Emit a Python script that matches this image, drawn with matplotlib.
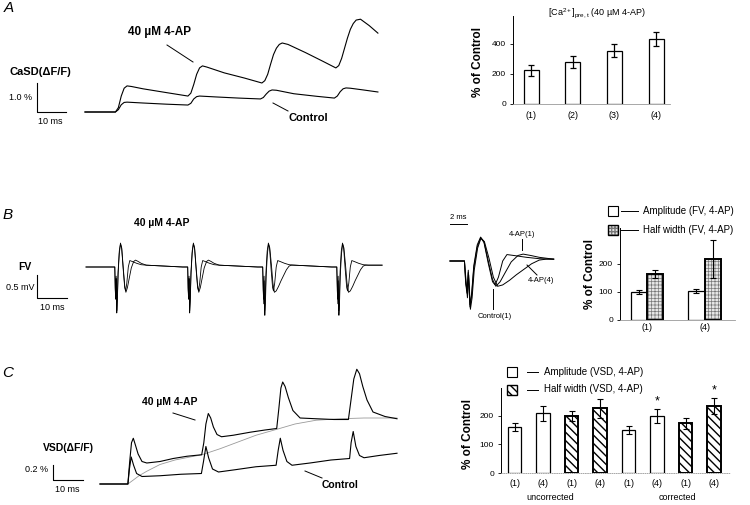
import numpy as np
import matplotlib
matplotlib.use('Agg')
import matplotlib.pyplot as plt
from matplotlib.lines import Line2D
from matplotlib.patches import Rectangle

plt.rcParams['font.family'] = ['Liberation Sans', 'DejaVu Sans']
plt.rcParams['mathtext.fontset'] = 'custom'
plt.rcParams['mathtext.rm'] = 'Liberation Sans'
plt.rcParams['mathtext.it'] = 'Liberation Sans:italic'
plt.rcParams['mathtext.bf'] = 'Liberation Sans:bold'

W, H = 750, 505

# ---- A: CaSD traces (ms, % dF/F)
ca_ctrl_t = [0, 10.5, 11.5, 12.5, 13.5, 14.5, 20, 28, 35.5, 36.5, 37.5, 38.5, 39.5, 45, 53, 60.5,
             61.5, 62.5, 63.5, 64.5, 66, 72, 80, 86, 87, 88, 89, 90, 91.5, 96, 101]
ca_ctrl_v = [0, 0, 0.08, 0.25, 0.33, 0.34, 0.31, 0.27, 0.24, 0.3, 0.45, 0.53, 0.55, 0.52, 0.48, 0.45,
             0.5, 0.62, 0.72, 0.76, 0.75, 0.63, 0.54, 0.48, 0.55, 0.7, 0.8, 0.83, 0.82, 0.76, 0.69]
ca_4ap_t = [0, 10.5, 11.5, 12.5, 13.5, 14.5, 16, 20, 28, 35.5, 36.5, 37.5, 38.5, 39.5, 40.5, 42, 48, 55,
            61, 62, 63, 64, 65, 66, 67, 68, 70, 76, 82, 86.5, 87.5, 88.5, 89.5, 90.5, 91.5, 92.5, 93.5,
            95, 98, 101]
ca_4ap_v = [0, 0, 0.15, 0.55, 0.82, 0.9, 0.88, 0.8, 0.67, 0.55, 0.65, 0.95, 1.3, 1.52, 1.59, 1.55, 1.35,
            1.17, 1.0, 1.08, 1.3, 1.65, 1.98, 2.2, 2.33, 2.38, 2.33, 2.05, 1.75, 1.52, 1.6, 1.85, 2.2,
            2.55, 2.85, 3.05, 3.17, 3.2, 2.98, 2.72]

# ---- A: [Ca2+] bars (% of control)
ca_labels = ['(1)', '(2)', '(3)', '(4)']
ca_mean = [225, 277, 355, 433]
ca_err = [38, 40, 43, 47]

# ---- B: FV waveforms, one pulse each (ms from sweep start, mV)
fv_ctrl_t = [0, 1.7, 1.85, 2.0, 2.15, 2.35, 2.55, 2.8, 3.2, 3.6, 4.0, 4.5, 5.0, 5.3, 5.7, 6.2, 6.7,
             7.5, 9, 10.5, 12.2]
fv_ctrl_v = [0, 0, -0.5, -0.7, -0.2, -0.95, -0.7, -0.1, 0.35, 0.52, 0.4, -0.05, -0.45, -0.52, -0.35,
             0.0, 0.14, 0.12, 0.08, 0.05, 0.04]
fv_ap1_t = [0, 1.7, 1.85, 2.0, 2.15, 2.35, 2.55, 2.8, 3.2, 3.6, 4.0, 4.5, 5.0, 5.4, 5.9, 6.5, 7.2,
            8.0, 8.6, 9.5, 10.5, 12.2]
fv_ap1_v = [0, 0, -0.45, -0.65, -0.25, -1.0, -0.75, -0.15, 0.3, 0.5, 0.42, 0.0, -0.4, -0.55, -0.45,
            -0.25, -0.02, 0.12, 0.15, 0.12, 0.08, 0.04]
fv_ap4_t = [0, 1.7, 1.85, 2.05, 2.2, 2.4, 2.6, 2.85, 3.25, 3.65, 4.05, 4.6, 5.1, 5.6, 6.2, 7.0, 7.8,
            8.7, 9.6, 10.5, 11.3, 12.2]
fv_ap4_v = [0, 0, -0.35, -0.8, -0.3, -1.05, -0.8, -0.2, 0.28, 0.5, 0.42, 0.05, -0.35, -0.55, -0.52,
            -0.42, -0.3, -0.18, -0.06, 0.02, 0.04, 0.04]
fv_stim = [9.7, 34.0, 59.0, 83.7]
fv_lead = 1.8
fv_end = 98.7

# ---- B: FV bars
fv_groups = ['(1)', '(4)']
fv_amp = [100, 104]
fv_amp_err = [6, 6]
fv_hw = [164, 218]
fv_hw_err = [14, 68]

# ---- C: VSD traces (ms, % dF/F)
vsd_ctrl_t = [0, 9.3, 9.8, 10.4, 11.2, 12.2, 14, 20, 27, 33.8, 34.5, 35.3, 36.2, 37.5, 39.5, 45, 52,
              58.7, 59.4, 60.1, 61.0, 62.3, 64, 70, 77, 83.2, 83.7, 84.4, 85.3, 86.5, 88, 93, 99]
vsd_ctrl_v = [0, 0, 0.2, 0.36, 0.25, 0.14, 0.1, 0.11, 0.13, 0.14, 0.3, 0.5, 0.35, 0.2, 0.16, 0.19,
              0.23, 0.25, 0.45, 0.61, 0.45, 0.3, 0.25, 0.28, 0.32, 0.34, 0.55, 0.7, 0.5, 0.38, 0.35,
              0.38, 0.41]
vsd_4ap_t = [0, 9.3, 9.9, 10.5, 11.1, 11.8, 12.7, 14, 15.6, 20, 24.4, 29, 33.9, 34.6, 35.3, 36.1, 36.9,
             37.8, 39, 40.5, 44.4, 50, 55, 58.9, 59.6, 60.3, 60.9, 61.7, 62.8, 64.3, 66.7, 72, 78,
             82.8, 83.6, 84.6, 85.6, 86.5, 87.6, 89, 91, 95, 99]
vsd_4ap_v = [0, 0, 0.3, 0.55, 0.61, 0.52, 0.4, 0.3, 0.28, 0.3, 0.34, 0.37, 0.39, 0.55, 0.8, 0.94,
             0.88, 0.76, 0.66, 0.63, 0.65, 0.69, 0.72, 0.74, 1.0, 1.28, 1.36, 1.3, 1.15, 0.98, 0.88,
             0.87, 0.86, 0.86, 1.1, 1.4, 1.53, 1.47, 1.3, 1.12, 0.96, 0.9, 0.87]
vsd_fit_t = [9.3, 11, 13, 15.6, 20, 25, 30, 34, 40, 46, 52, 59, 65, 72, 80, 88, 99]
vsd_fit_v = [0, 0.05, 0.11, 0.17, 0.26, 0.32, 0.36, 0.39, 0.47, 0.56, 0.65, 0.73, 0.8, 0.85, 0.87,
             0.88, 0.88]

# ---- C: VSD bars
vsd_labels = ['(1)', '(4)', '(1)', '(4)', '(1)', '(4)', '(1)', '(4)']
vsd_mean = [162, 209, 200, 227, 151, 200, 174, 235]
vsd_err = [14, 25, 17, 33, 15, 26, 18, 29]
vsd_hatched = [False, False, True, True, False, False, True, True]
vsd_star = [False, False, False, False, False, True, False, True]

fig = plt.figure(figsize=(W / 100, H / 100), dpi=100)


def px_axes(x0, y0, x1, y1):
    return fig.add_axes([x0 / W, 1 - y1 / H, (x1 - x0) / W, (y1 - y0) / H])


def trace_axes(rect, x0, px_ms, y0, px_unit):
    ax = px_axes(*rect)
    ax.set_xlim((rect[0] - x0) / px_ms, (rect[2] - x0) / px_ms)
    ax.set_ylim((y0 - rect[3]) / px_unit, (y0 - rect[1]) / px_unit)
    ax.axis('off')
    return ax


def ptext(x, y, s, **kw):
    kw.setdefault('ha', 'center')
    kw.setdefault('va', 'center')
    fig.text(x / W, 1 - y / H, s, **kw)


def pline(xs, ys, **kw):
    fig.add_artist(Line2D([x / W for x in xs], [1 - y / H for y in ys],
                          transform=fig.transFigure, color='k', lw=0.7, **kw))


def prect(x0, y0, x1, y1, **kw):
    r = Rectangle((x0 / W, 1 - y1 / H), (x1 - x0) / W, (y1 - y0) / H,
                  transform=fig.transFigure, **kw)
    fig.add_artist(r)
    return r


def scale_bar(ax, t0, v0, dt, dv):
    ax.plot([t0, t0, t0 + dt], [v0 + dv, v0, v0], color='k', lw=0.8, clip_on=False)


def style_bar_axes(ax, xpad, bottom_ls='-'):
    for s in ['top', 'right']:
        ax.spines[s].set_visible(False)
    ax.spines['left'].set_linewidth(0.7)
    ax.spines['bottom'].set_color('#999999')
    ax.spines['bottom'].set_linewidth(0.6)
    ax.spines['bottom'].set_linestyle(bottom_ls)
    ax.tick_params(axis='y', length=2, width=0.6, pad=3, labelsize=6)
    ax.tick_params(axis='x', length=0, pad=xpad, labelsize=6.5)


def fv_sweep(templates):
    t, v = [0.0], [0.0]
    for stim, (tt, vv) in zip(fv_stim, templates):
        t += [x + stim - fv_lead for x in tt]
        v += list(vv)
    t.append(fv_end)
    v.append(v[-1])
    return t, v


lw_tr = 0.8

# ================= A =================
axA = trace_axes((0, 0, 400, 130), 85, 2.9, 112, 29)
axA.plot(ca_ctrl_t, ca_ctrl_v, color='k', lw=lw_tr)
axA.plot(ca_4ap_t, ca_4ap_v, color='k', lw=lw_tr)
scale_bar(axA, -16.7, 0.0, 10, 1.0)

ptext(9, 8, 'A', style='italic', fontsize=11)
ptext(160, 32, '40 µM 4-AP', fontweight='bold', fontsize=8.5)
pline([167, 193], [45, 62])
ptext(40, 72, 'CaSD(ΔF/F)', fontweight='bold', fontsize=8)
ptext(21, 98, '1.0 %', fontsize=6.5)
ptext(50, 122, '10 ms', fontsize=6.5)
ptext(308, 118, 'Control', fontweight='bold', fontsize=8)
pline([273, 288], [103, 111])

axAb = px_axes(513, 15.5, 670, 104)
xa = np.arange(1, len(ca_mean) + 1)
axAb.bar(xa, ca_mean, width=0.36, color='white', edgecolor='k', linewidth=0.9)
axAb.errorbar(xa, ca_mean, yerr=ca_err, fmt='none', ecolor='k', elinewidth=0.9, capsize=2.5,
              capthick=0.9)
axAb.set_xlim(0.568, 4.33)
axAb.set_ylim(0, 590)
axAb.set_yticks([0, 200, 400])
axAb.set_xticks(xa, ca_labels)
style_bar_axes(axAb, 5)
ptext(597, 13, r'[Ca$^{2+}$]$_{\mathrm{pre,t}}$ (40 µM 4-AP)', fontsize=6.5)
ptext(478, 62, '% of Control', rotation=90, fontweight='bold', fontsize=8.5)

# ================= B =================
axB = trace_axes((0, 190, 440, 330), 86, 3, 267, 46)
t, v = fv_sweep([(fv_ctrl_t, fv_ctrl_v)] * 4)
axB.plot(t, v, color='k', lw=0.6)
t, v = fv_sweep([(fv_ap1_t, fv_ap1_v), (fv_ap1_t, fv_ap1_v),
                 (fv_ap4_t, fv_ap4_v), (fv_ap4_t, fv_ap4_v)])
axB.plot(t, v, color='k', lw=0.6)
scale_bar(axB, -16.3, -0.674, 10, 0.5)

ptext(8, 215, 'B', style='italic', fontsize=11)
ptext(162, 223, '40 µM 4-AP', fontweight='bold', fontsize=7.5)
ptext(25, 267, 'FV', fontweight='bold', fontsize=7.5)
ptext(20, 288, '0.5 mV', fontsize=6.5)
ptext(52, 307, '10 ms', fontsize=6.5)

axI = trace_axes((440, 205, 565, 330), 450, 8.5, 261, 46)
axI.plot(fv_ctrl_t, fv_ctrl_v, color='k', lw=0.7)
axI.plot(fv_ap1_t, fv_ap1_v, color='k', lw=0.7)
axI.plot(fv_ap4_t, fv_ap4_v, color='k', lw=0.7)
axI.plot([0, 2], [0.8, 0.8], color='k', lw=0.7, clip_on=False)
ptext(458, 218, '2 ms', fontsize=5.5)
ptext(522, 234, '4-AP(1)', fontsize=5.5)
pline([522, 522], [239, 250])
ptext(541, 281, '4-AP(4)', fontsize=5.5)
pline([527, 537], [265, 275])
ptext(495, 316, 'Control(1)', fontsize=5.5)
pline([493, 493], [289, 309])

axBb = px_axes(620, 228, 735, 320)
xb = np.arange(1, len(fv_groups) + 1)
off, wb = 0.14, 0.28
axBb.bar(xb - off, fv_amp, width=wb, color='white', edgecolor='k', linewidth=0.9)
hb = axBb.bar(xb + off, fv_hw, width=wb, color='#e6e6e6', edgecolor='#777777', linewidth=0,
              hatch='+++++')
axBb.bar(xb + off, fv_hw, width=wb, fill=False, edgecolor='k', linewidth=1.4)
axBb.errorbar(xb - off, fv_amp, yerr=fv_amp_err, fmt='none', ecolor='k', elinewidth=0.8,
              capsize=2.2, capthick=0.8)
axBb.errorbar(xb + off, fv_hw, yerr=fv_hw_err, fmt='none', ecolor='k', elinewidth=0.8,
              capsize=2.2, capthick=0.8)
for p in hb:
    if hasattr(p, 'set_hatch_linewidth'):
        p.set_hatch_linewidth(0.5)
axBb.set_xlim(0.53, 2.53)
axBb.set_ylim(0, 328)
axBb.set_yticks([0, 100, 200])
axBb.set_xticks(xb, fv_groups)
style_bar_axes(axBb, 2)
for a in axBb.get_children():
    pass
ptext(590, 274, '% of Control', rotation=90, fontweight='bold', fontsize=8.5)

prect(608, 206, 618, 216, facecolor='white', edgecolor='k', lw=0.8)
pline([621, 638], [211, 211])
ptext(643, 211, 'Amplitude (FV, 4-AP)', ha='left', fontsize=7)
r = prect(608, 225, 618, 235, facecolor='#e6e6e6', edgecolor='#777777', lw=0, hatch='+++++')
prect(608, 225, 618, 235, fill=False, edgecolor='k', lw=1.0)
pline([621, 638], [230, 230])
ptext(643, 230, 'Half width (FV, 4-AP)', ha='left', fontsize=7)

# ================= C =================
axC = trace_axes((0, 350, 420, 505), 100, 3, 484, 75)
axC.plot(vsd_fit_t, vsd_fit_v, color='#9a9a9a', lw=0.6)
axC.plot(vsd_ctrl_t, vsd_ctrl_v, color='k', lw=lw_tr)
axC.plot(vsd_4ap_t, vsd_4ap_v, color='k', lw=lw_tr)
scale_bar(axC, -15.7, 0.053, 10, 0.2)

ptext(8, 373, 'C', style='italic', fontsize=11)
ptext(170, 402, '40 µM 4-AP', fontweight='bold', fontsize=7.5)
pline([173, 195], [413, 420])
ptext(68, 448, 'VSD(ΔF/F)', fontweight='bold', fontsize=7.5)
ptext(37, 469, '0.2 %', fontsize=6.5)
ptext(67, 490, '10 ms', fontsize=6.5)
ptext(340, 485, 'Control', fontweight='bold', fontsize=7.5)
pline([305, 322], [471, 478])

axCb = px_axes(501, 388, 730, 473)
xc = np.arange(1, len(vsd_mean) + 1)
for x, m, e, h, s in zip(xc, vsd_mean, vsd_err, vsd_hatched, vsd_star):
    if h:
        axCb.bar(x, m, width=0.47, color='white', edgecolor='k', linewidth=1.4, hatch='\\\\\\\\')
    else:
        axCb.bar(x, m, width=0.47, color='white', edgecolor='k', linewidth=0.9)
    axCb.errorbar(x, m, yerr=e, fmt='none', ecolor='k', elinewidth=0.8, capsize=2.2,
                  capthick=0.8)
    if s:
        axCb.text(x, m + e + 4, '*', ha='center', va='bottom', fontsize=9, clip_on=False)
axCb.set_xlim(0.526, 8.56)
axCb.set_ylim(0, 298)
axCb.set_yticks([0, 100, 200])
axCb.set_xticks(xc, vsd_labels)
style_bar_axes(axCb, 4, bottom_ls=':')
ptext(468, 434, '% of Control', rotation=90, fontweight='bold', fontsize=8.5)
ptext(550, 497, 'uncorrected', fontsize=6.5)
ptext(677, 497, 'corrected', fontsize=6.5)

prect(507, 367, 517, 377, facecolor='white', edgecolor='k', lw=0.8)
pline([527, 538], [372, 372])
ptext(544, 372, 'Amplitude (VSD, 4-AP)', ha='left', fontsize=7)
prect(507, 385, 517, 395, facecolor='white', edgecolor='k', lw=1.0, hatch='\\\\\\\\')
pline([527, 538], [390, 390])
ptext(544, 389, 'Half width (VSD, 4-AP)', ha='left', fontsize=7)

fig.savefig('out.png', dpi=100)
